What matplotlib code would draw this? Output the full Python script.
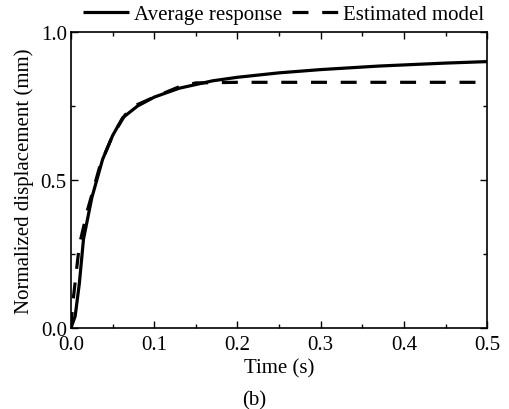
import matplotlib
matplotlib.use("Agg")
import matplotlib.pyplot as plt
from matplotlib.ticker import MultipleLocator

plt.rcParams['font.family'] = ['Liberation Serif', 'DejaVu Serif']

t_avg = [0, 0.005, 0.010, 0.015, 0.025, 0.038, 0.05, 0.062, 0.08, 0.1, 0.13, 0.17, 0.2, 0.25, 0.3, 0.37, 0.45, 0.5]
y_avg = [0, 0.04, 0.15, 0.30, 0.44, 0.57, 0.65, 0.71, 0.75, 0.78, 0.81, 0.835, 0.847, 0.862, 0.873, 0.885, 0.895, 0.90]

t_mod = [0.0, 0.002, 0.010, 0.020, 0.035, 0.05, 0.065, 0.08, 0.1, 0.13, 0.15, 0.2, 0.3, 0.4, 0.49]
y_mod = [0.0, 0.08, 0.28, 0.40, 0.55, 0.65, 0.72, 0.755, 0.78, 0.815, 0.828, 0.83, 0.83, 0.83, 0.83]

fig = plt.figure(figsize=(5.09, 4.10), dpi=100)
ax = fig.add_axes([0.1395, 0.1976, 0.8175, 0.7219])

ax.plot(t_avg, y_avg, color='black', lw=2.3, label='Average response', solid_capstyle='butt')
ax.plot(t_mod, y_mod, color='black', lw=2.3, ls=(0, (5, 4.3)), label='Estimated model')

ax.set_xlim(0, 0.5)
ax.set_ylim(0, 1.0)
ax.xaxis.set_major_locator(MultipleLocator(0.1))
ax.xaxis.set_minor_locator(MultipleLocator(0.05))
ax.yaxis.set_major_locator(MultipleLocator(0.5))
ax.yaxis.set_minor_locator(MultipleLocator(0.25))
ax.tick_params(which='both', direction='in', top=True, right=True, labelsize=15, width=1)
ax.tick_params(which='major', length=5)
ax.tick_params(which='minor', length=3)
ax.tick_params(axis='x', pad=5)
ax.tick_params(axis='y', pad=3)
ax.xaxis.set_major_formatter(matplotlib.ticker.FormatStrFormatter('%.1f'))
ax.yaxis.set_major_formatter(matplotlib.ticker.FormatStrFormatter('%.1f'))
for s in ax.spines.values():
    s.set_linewidth(1.2)

ax.set_xlabel('Time (s)', fontsize=15, labelpad=3)
ax.set_ylabel('Normalized displacement (mm)', fontsize=15, labelpad=5)
ax.legend(loc='lower center', bbox_to_anchor=(0.511, 0.985), ncol=2, frameon=False,
          fontsize=15, handlelength=2.2, columnspacing=0.5, handletextpad=0.25, borderpad=0.1)
fig.text(0.5, 0.012, '(b)', ha='center', fontsize=15)

fig.savefig('out.png', dpi=100)
